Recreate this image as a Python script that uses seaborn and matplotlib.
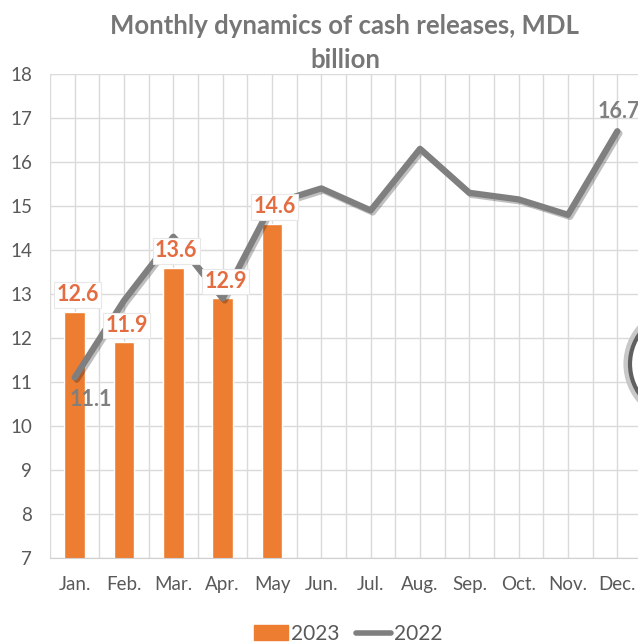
import matplotlib.pyplot as plt
import matplotlib.patheffects as pe
from matplotlib.patches import Patch, Circle
from matplotlib.lines import Line2D
from matplotlib.ticker import FixedLocator
import numpy as np
import pandas as pd
import seaborn as sns

months = ["Jan.", "Feb.", "Mar.", "Apr.", "May", "Jun.", "Jul.", "Aug.", "Sep.", "Oct.", "Nov.", "Dec."]
cash_2023 = [12.6, 11.9, 13.6, 12.9, 14.6, None, None, None, None, None, None, None]
cash_2022 = [11.1, 12.85, 14.3, 12.9, 15.05, 15.4, 14.9, 16.3, 15.3, 15.15, 14.8, 16.7]

df = pd.DataFrame({"month": months, "y2023": cash_2023, "y2022": cash_2022})
df["pos"] = np.arange(len(months))

orange = "#ED7D31"
grey = "#7F7F7F"
label_orange = "#E46C41"

sns.set_style("white")
plt.rcParams["font.family"] = ["Lato", "DejaVu Sans"]

fig = plt.figure(figsize=(6.38, 6.44), dpi=100)
ax = fig.add_axes([50 / 638, 86 / 644, 592 / 638, 484 / 644])

sns.barplot(data=df, x="month", y="y2023", order=months, color=orange,
            width=0.42, saturation=1, ax=ax, zorder=2)
sns.lineplot(data=df, x="pos", y="y2022", color=grey, linewidth=4.5, ax=ax,
             zorder=3, path_effects=[pe.SimpleLineShadow(offset=(1.5, -1.5), alpha=0.25),
                                     pe.Normal()])

ax.set_xlim(-0.5, 11.5)
ax.set_ylim(7, 18)
ax.set_yticks(range(7, 19))
ax.set_xticks(range(12))
ax.set_xticklabels(months)
ax.xaxis.set_minor_locator(FixedLocator(np.arange(-0.5, 12, 1)))
ax.grid(True, which="both", axis="x", color="#DADADA", linewidth=1)
ax.grid(True, which="major", axis="y", color="#DADADA", linewidth=1)
ax.set_axisbelow(True)
for s in ["top", "right", "left"]:
    ax.spines[s].set_visible(False)
ax.spines["bottom"].set_color("#D0D0D0")
ax.tick_params(axis="x", which="major", length=0, pad=13, labelsize=13.5, labelcolor="#595959")
ax.tick_params(axis="x", which="minor", length=5, color="#D0D0D0")
ax.tick_params(axis="y", length=0, pad=13, labelsize=13.5, labelcolor="#595959")
ax.set_xlabel("")
ax.set_ylabel("")

for i, v in enumerate(cash_2023):
    if v is None:
        continue
    ax.annotate(f"{v:.1f}", (i, v), xytext=(2, 12), textcoords="offset points",
                ha="center", va="center", fontsize=15.5, fontweight="bold", color=label_orange,
                bbox=dict(boxstyle="square,pad=0.1", facecolor="white", edgecolor="#E8E8E8", linewidth=0.8),
                zorder=5)

ax.annotate(f"{cash_2022[0]:.1f}", (0, cash_2022[0]), xytext=(12, -16), textcoords="offset points",
            ha="center", va="center", fontsize=15.5, fontweight="bold", color=grey, zorder=5)
ax.annotate(f"{cash_2022[-1]:.1f}", (11, cash_2022[-1]), xytext=(1, 14), textcoords="offset points",
            ha="center", va="center", fontsize=15.5, fontweight="bold", color=grey, zorder=5)

fig.text(345 / 638, 1 - 43 / 644, "Monthly dynamics of cash releases, MDL\nbillion",
         ha="center", va="center", fontsize=18.5, fontweight="bold", color="#767676", linespacing=1.45)

handles = [Patch(facecolor=orange, edgecolor=orange), Line2D([0], [0], color=grey, linewidth=4)]
fig.legend(handles, ["2023", "2022"], loc="center", bbox_to_anchor=(348 / 638, 1 - 634 / 644),
           ncol=2, frameon=False, fontsize=15, handlelength=1.65, handleheight=0.7,
           columnspacing=0.8, handletextpad=0.15, labelcolor="#595959",
           borderpad=0, borderaxespad=0)

circ_shadow = Circle((682, 644 - 364), 53, transform=None, facecolor="none",
                     edgecolor="#C8C8C8", linewidth=8, zorder=10)
circ = Circle((682, 644 - 364), 52, transform=None, facecolor="white",
              edgecolor="#606060", linewidth=3, zorder=11)
fig.patches.extend([circ_shadow, circ])

fig.savefig("out.png", dpi=100, facecolor="white")
